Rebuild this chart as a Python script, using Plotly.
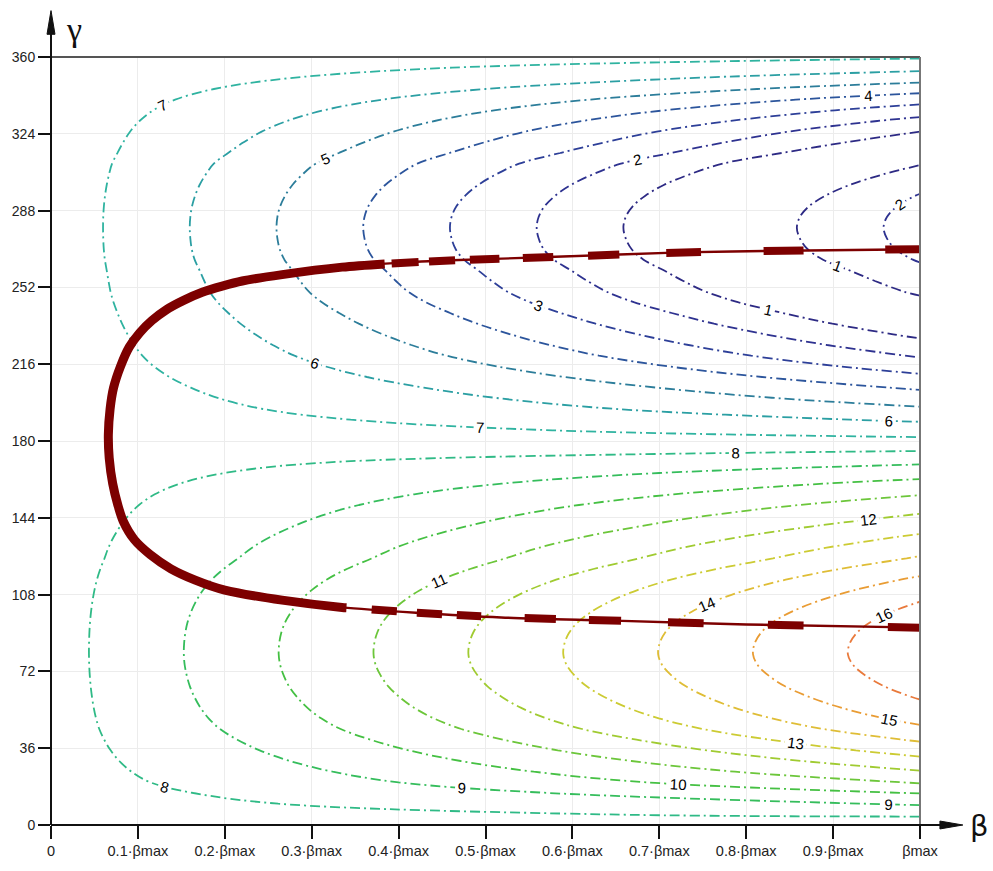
import numpy as np
import plotly.graph_objects as go

# ---- field data -------------------------------------------------------------
# angle samples γ (degrees) and the field value read along the edge β = βmax;
# at β = 0 the field equals value_at_beta_zero for every γ
gamma_deg = list(range(0, 361, 5))
value_at_beta_max = [
    7.12, 8.23, 9.13, 10.04, 11.10, 11.92, 12.69, 13.43, 14.13, 14.80,
    15.32, 15.74, 16.08, 16.36, 16.56, 16.70, 16.76, 16.74, 16.66, 16.51,
    16.28, 15.98, 15.61, 15.17, 14.65, 14.10, 13.65, 13.15, 12.62, 12.10,
    11.55, 10.95, 10.30, 9.60, 8.85, 8.05, 7.25, 6.56, 5.86, 5.14,
    4.50, 3.87, 3.20, 2.53, 1.89, 1.33, 0.79, 0.26, -0.24, -0.74,
    -1.16, -1.47, -1.76, -2.08, -2.28, -2.38, -2.42, -2.38, -2.26, -2.05,
    -1.76, -1.38, -0.94, -0.25, 0.38, 1.00, 1.71, 2.50, 3.40, 4.40,
    5.40, 6.30, 7.12,
]
value_at_beta_zero = 7.6
beta_columns = [0.0, 1.0]

# contour levels (magnitude of the field)
level_start, level_end, level_step = 1, 16, 1
level_colors = [
    "#2d2a84", "#2e3290", "#2d3f98", "#2c559c", "#2c7d9a", "#2b9fa3",
    "#2fb3a0", "#2fba86", "#35bd5c", "#45c043", "#6cc63a", "#a0cb31",
    "#cccb33", "#dfbd36", "#e99c34", "#e97a3c",
]

# locus curve (β / βmax, γ), from the upper right end round to the lower right end
locus_beta = [1.0, 0.843, 0.725, 0.564, 0.461, 0.40, 0.335, 0.266, 0.220, 0.197,
              0.174, 0.152, 0.133, 0.116, 0.102, 0.090, 0.080, 0.072, 0.068, 0.066,
              0.067, 0.071, 0.077, 0.083, 0.096, 0.114, 0.138, 0.166, 0.200, 0.266,
              0.335, 0.420, 0.518, 0.648, 0.800, 1.0]
locus_gamma = [269.9, 269.2, 268.4, 266.1, 264.7, 263.5, 261.5, 258.0, 255.0, 252.6,
               249.7, 245.8, 241.6, 236.4, 230.7, 224.0, 215.0, 205.0, 195.0, 183.0,
               172.0, 160.0, 149.9, 142.5, 133.7, 126.8, 120.1, 114.8, 110.1, 105.4,
               102.0, 99.5, 97.3, 95.8, 94.0, 92.5]
# β intervals where the locus is drawn heavy
heavy_upper = [(0.066, 0.384), (0.392, 0.423), (0.435, 0.465), (0.482, 0.516),
               (0.543, 0.578), (0.618, 0.654), (0.708, 0.748), (0.82, 0.866), (0.96, 1.0)]
heavy_lower = [(0.066, 0.34), (0.369, 0.398), (0.421, 0.45), (0.467, 0.495),
               (0.545, 0.581), (0.619, 0.656), (0.71, 0.751), (0.825, 0.866), (0.963, 1.0)]

# axis ticks
beta_ticks = [0, 0.1, 0.2, 0.3, 0.4, 0.5, 0.6, 0.7, 0.8, 0.9, 1.0]
beta_tick_text = ["0", "0.1·βmax", "0.2·βmax", "0.3·βmax", "0.4·βmax", "0.5·βmax",
                  "0.6·βmax", "0.7·βmax", "0.8·βmax", "0.9·βmax", "βmax"]
gamma_ticks = [0, 36, 72, 108, 144, 180, 216, 252, 288, 324, 360]
gamma_tick_text = [str(v) for v in gamma_ticks]

# ---- figure -----------------------------------------------------------------
W, H = 993, 871
ML, MR, MT, MB = 48, 73, 57, 36
PW, PH = W - ML - MR, H - MT - MB


def px(xp):
    return (xp - ML) / PW


def py(yp):
    return (H - MB - yp) / PH


field = [[value_at_beta_zero, v] for v in value_at_beta_max]
field_neg = [[-a for a in row] for row in field]

n_levels = len(level_colors)
scale = [[i / (n_levels - 1), c] for i, c in enumerate(level_colors)]
contour_cfg = dict(start=level_start, end=level_end, size=level_step,
                   coloring="lines", showlabels=True,
                   labelfont=dict(size=15, color="black",
                                  family="Liberation Sans, Arial, sans-serif"))
line_cfg = dict(width=1.8, dash="10px,4px,2px,4px", smoothing=1.0)

fig = go.Figure()
for zz in (field, field_neg):
    fig.add_trace(go.Contour(
        x=beta_columns, y=gamma_deg, z=zz,
        autocontour=False, contours=contour_cfg,
        colorscale=scale, showscale=False, line=line_cfg,
        hoverinfo="skip",
    ))

# locus: thin full curve plus heavy stretches
dark_red = "#7d0000"
fig.add_trace(go.Scatter(x=locus_beta, y=locus_gamma, mode="lines",
                         line=dict(color=dark_red, width=2.4, shape="spline", smoothing=0.8),
                         hoverinfo="skip"))

b = np.array(locus_beta)
g = np.array(locus_gamma)
split = int(np.argmin(b))
up_b, up_g = b[:split + 1][::-1], g[:split + 1][::-1]
lo_b, lo_g = b[split:], g[split:]

# heavy stretch round the vertex (one continuous piece)
end_up = heavy_upper[0][1]
end_lo = heavy_lower[0][1]
head_up = [i for i in range(len(up_b)) if up_b[i] < end_up]
head_lo = [i for i in range(1, len(lo_b)) if lo_b[i] < end_lo]
head_x = ([end_up] + [float(up_b[i]) for i in head_up][::-1]
          + [float(lo_b[i]) for i in head_lo] + [end_lo])
head_y = ([float(np.interp(end_up, up_b, up_g))] + [float(up_g[i]) for i in head_up][::-1]
          + [float(lo_g[i]) for i in head_lo] + [float(np.interp(end_lo, lo_b, lo_g))])
fig.add_trace(go.Scatter(
    x=head_x, y=head_y,
    mode="lines", line=dict(color=dark_red, width=9, shape="spline", smoothing=0.8),
    hoverinfo="skip"))

# remaining heavy beads along the two branches
hx, hy = [], []
for (bb, gg), spans in (((up_b, up_g), heavy_upper[1:]), ((lo_b, lo_g), heavy_lower[1:])):
    for s0, s1 in spans:
        inner = [k for k in range(len(bb)) if s0 < bb[k] < s1]
        xs = [s0] + [float(bb[k]) for k in inner] + [s1]
        ys = ([float(np.interp(s0, bb, gg))] + [float(gg[k]) for k in inner]
              + [float(np.interp(s1, bb, gg))])
        hx += xs + [None]
        hy += ys + [None]
fig.add_trace(go.Scatter(x=hx, y=hy, mode="lines", connectgaps=False,
                         line=dict(color=dark_red, width=8),
                         hoverinfo="skip"))

tick_font = dict(family="Liberation Sans, Arial, sans-serif", size=14.5, color="#222")
fig.update_xaxes(range=[0, 1], tickvals=beta_ticks, ticktext=beta_tick_text,
                 showgrid=True, gridcolor="#ececec", gridwidth=1, zeroline=False,
                 showline=False, ticks="outside", ticklen=13, tickwidth=2,
                 tickcolor="#111", tickfont=tick_font)
fig.update_yaxes(range=[0, 360], tickvals=gamma_ticks, ticktext=gamma_tick_text,
                 showgrid=True, gridcolor="#ececec", gridwidth=1, zeroline=False,
                 showline=False, ticks="outside", ticklen=12, tickwidth=2,
                 tickcolor="#111", tickfont=dict(tick_font, size=14))

shapes = [
    # frame (top and right)
    dict(type="line", xref="paper", yref="paper", x0=0, y0=1, x1=1, y1=1,
         line=dict(color="#555", width=2)),
    dict(type="line", xref="paper", yref="paper", x0=1, y0=0, x1=1, y1=1,
         line=dict(color="#777", width=2)),
    # axes with arrows
    dict(type="line", xref="paper", yref="paper", x0=0, y0=0, x1=px(945), y1=0,
         line=dict(color="#111", width=2)),
    dict(type="path", xref="paper", yref="paper",
         path=f"M {px(963)},{py(835)} L {px(940)},{py(839)} L {px(940)},{py(831)} Z",
         fillcolor="#111", line=dict(color="#111", width=1)),
    dict(type="line", xref="paper", yref="paper", x0=0, y0=0, x1=0, y1=py(28),
         line=dict(color="#111", width=2)),
    dict(type="path", xref="paper", yref="paper",
         path=f"M {px(48)},{py(10)} L {px(44)},{py(34)} L {px(52)},{py(34)} Z",
         fillcolor="#111", line=dict(color="#111", width=1)),
]

annotations = [
    dict(xref="paper", yref="paper", x=px(980), y=py(836), text="β", showarrow=False,
         xanchor="center", yanchor="middle",
         font=dict(family="DejaVu Sans, sans-serif", size=29, color="#111")),
    dict(xref="paper", yref="paper", x=px(71), y=py(29), text="γ", showarrow=False,
         xanchor="center", yanchor="middle",
         font=dict(family="Liberation Serif, serif", size=34, color="#111")),
]

fig.update_layout(
    width=W, height=H,
    margin=dict(l=ML, r=MR, t=MT, b=MB),
    paper_bgcolor="white", plot_bgcolor="white",
    showlegend=False, shapes=shapes, annotations=annotations,
)

fig.write_html("out.html")
